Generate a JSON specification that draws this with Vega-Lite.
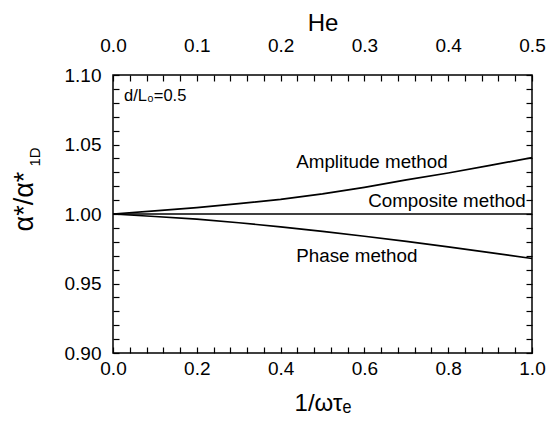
{
  "$schema": "https://vega.github.io/schema/vega-lite/v6.json",
  "width": 419,
  "height": 278,
  "autosize": {"type": "none"},
  "padding": {"left": 113, "top": 75, "right": 18, "bottom": 71},
  "background": "white",
  "config": {
    "view": {"stroke": "black", "strokeWidth": 1.5},
    "font": "Liberation Sans",
    "axis": {
      "grid": false,
      "domain": false,
      "tickColor": "black",
      "tickWidth": 1.2,
      "tickSize": 6,
      "offset": -6,
      "labelColor": "black",
      "titleColor": "black",
      "labelFont": "Liberation Sans",
      "titleFont": "Liberation Sans",
      "titleFontWeight": "normal",
      "labelFlush": false,
      "labelOverlap": false
    }
  },
  "datasets": {
    "curves": [
      {"method": "Amplitude", "x": 0.0, "y": 1.0},
      {"method": "Amplitude", "x": 0.1, "y": 1.0022},
      {"method": "Amplitude", "x": 0.2, "y": 1.0046},
      {"method": "Amplitude", "x": 0.3, "y": 1.0075},
      {"method": "Amplitude", "x": 0.4, "y": 1.0105},
      {"method": "Amplitude", "x": 0.5, "y": 1.0145},
      {"method": "Amplitude", "x": 0.6, "y": 1.0192},
      {"method": "Amplitude", "x": 0.7, "y": 1.0245},
      {"method": "Amplitude", "x": 0.8, "y": 1.0295},
      {"method": "Amplitude", "x": 0.9, "y": 1.035},
      {"method": "Amplitude", "x": 1.0, "y": 1.0405},
      {"method": "Composite", "x": 0.0, "y": 1.0},
      {"method": "Composite", "x": 0.5, "y": 1.0},
      {"method": "Composite", "x": 1.0, "y": 1.0},
      {"method": "Phase", "x": 0.0, "y": 1.0},
      {"method": "Phase", "x": 0.1, "y": 0.9982},
      {"method": "Phase", "x": 0.2, "y": 0.9963},
      {"method": "Phase", "x": 0.3, "y": 0.9937},
      {"method": "Phase", "x": 0.4, "y": 0.9908},
      {"method": "Phase", "x": 0.5, "y": 0.9875},
      {"method": "Phase", "x": 0.6, "y": 0.984},
      {"method": "Phase", "x": 0.7, "y": 0.9803},
      {"method": "Phase", "x": 0.8, "y": 0.9763},
      {"method": "Phase", "x": 0.9, "y": 0.9722},
      {"method": "Phase", "x": 1.0, "y": 0.968}
    ],
    "labels": [
      {"label": "Amplitude method", "x": 0.618, "y": 1.0374},
      {"label": "Composite method", "x": 0.797, "y": 1.0094},
      {"label": "Phase method", "x": 0.582, "y": 0.9698}
    ],
    "one": [{"k": 1}]
  },
  "resolve": {"axis": {"x": "independent", "y": "independent"}},
  "layer": [
    {
      "data": {"name": "curves"},
      "mark": {"type": "line", "color": "black", "strokeWidth": 1.7},
      "encoding": {
        "x": {
          "field": "x", "type": "quantitative",
          "scale": {"domain": [0, 1], "nice": false, "zero": false},
          "axis": {
            "orient": "bottom",
            "values": [0, 0.04, 0.08, 0.12, 0.16, 0.2, 0.24, 0.28, 0.32, 0.36, 0.4, 0.44, 0.48, 0.52, 0.56, 0.6, 0.64, 0.68, 0.72, 0.76, 0.8, 0.84, 0.88, 0.92, 0.96, 1.0],
            "labelExpr": "round(datum.value * 50) % 10 == 0 ? format(datum.value, '.1f') : ''",
            "labelPadding": 6,
            "labelFontSize": 19,
            "title": "1/ωτₑ",
            "titleFontSize": 24,
            "titlePadding": 13
          }
        },
        "y": {
          "field": "y", "type": "quantitative",
          "scale": {"domain": [0.9, 1.1], "nice": false, "zero": false},
          "axis": {
            "orient": "left",
            "values": [0.9, 0.91, 0.92, 0.93, 0.94, 0.95, 0.96, 0.97, 0.98, 0.99, 1.0, 1.01, 1.02, 1.03, 1.04, 1.05, 1.06, 1.07, 1.08, 1.09, 1.1],
            "labelExpr": "round(datum.value * 100) % 5 == 0 ? format(datum.value, '.2f') : ''",
            "labelPadding": 12,
            "labelFontSize": 19,
            "title": null
          }
        },
        "detail": {"field": "method", "type": "nominal"}
      }
    },
    {
      "data": {"name": "labels"},
      "mark": {"type": "text", "fontSize": 18.8, "color": "black", "align": "center", "baseline": "middle", "font": "Liberation Sans"},
      "encoding": {
        "x": {
          "field": "x", "type": "quantitative",
          "scale": {"domain": [0, 1], "nice": false, "zero": false},
          "axis": {
            "orient": "top",
            "values": [0, 0.04, 0.08, 0.12, 0.16, 0.2, 0.24, 0.28, 0.32, 0.36, 0.4, 0.44, 0.48, 0.52, 0.56, 0.6, 0.64, 0.68, 0.72, 0.76, 0.8, 0.84, 0.88, 0.92, 0.96, 1.0],
            "labelExpr": "round(datum.value * 50) % 10 == 0 ? format(datum.value / 2, '.1f') : ''",
            "labelPadding": 20,
            "labelFontSize": 19,
            "title": "He",
            "titleFontSize": 24,
            "titlePadding": 1
          }
        },
        "y": {
          "field": "y", "type": "quantitative",
          "scale": {"domain": [0.9, 1.1], "nice": false, "zero": false},
          "axis": {
            "orient": "right",
            "values": [0.9, 0.91, 0.92, 0.93, 0.94, 0.95, 0.96, 0.97, 0.98, 0.99, 1.0, 1.01, 1.02, 1.03, 1.04, 1.05, 1.06, 1.07, 1.08, 1.09, 1.1],
            "labels": false,
            "title": null
          }
        },
        "text": {"field": "label", "type": "nominal"}
      }
    },
    {
      "data": {"name": "one"},
      "mark": {"type": "text", "text": "d/L₀=0.5", "fontSize": 16.5, "color": "black", "align": "left", "baseline": "middle", "dx": 11, "dy": 21, "font": "Liberation Sans"},
      "encoding": {
        "x": {"datum": 0, "type": "quantitative", "axis": null},
        "y": {"datum": 1.1, "type": "quantitative", "axis": null}
      }
    },
    {
      "data": {"name": "one"},
      "mark": {"type": "text", "text": "α*/α*", "fontSize": 27, "color": "black", "align": "center", "baseline": "middle", "angle": 270, "dx": 12.5, "dy": -88, "font": "Liberation Sans"},
      "encoding": {
        "x": {"datum": 0, "type": "quantitative", "axis": null},
        "y": {"datum": 1.0, "type": "quantitative", "axis": null}
      }
    },
    {
      "data": {"name": "one"},
      "mark": {"type": "text", "text": "1D", "fontSize": 15, "color": "black", "align": "center", "baseline": "middle", "angle": 270, "dx": 57, "dy": -78, "font": "Liberation Sans"},
      "encoding": {
        "x": {"datum": 0, "type": "quantitative", "axis": null},
        "y": {"datum": 1.0, "type": "quantitative", "axis": null}
      }
    }
  ]
}
